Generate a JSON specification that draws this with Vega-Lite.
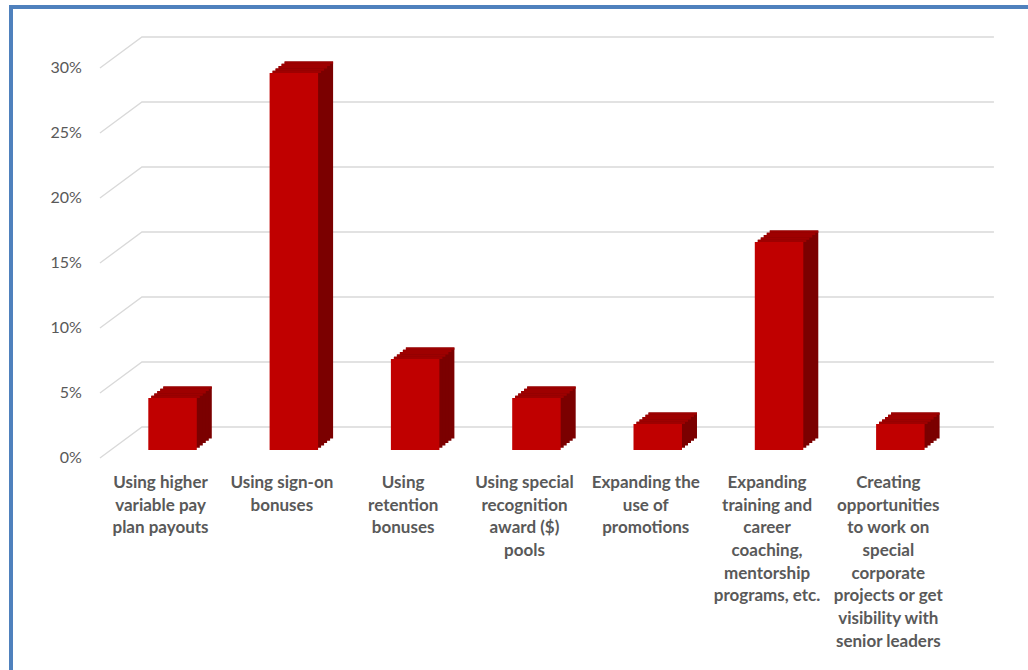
{
  "$schema": "https://vega.github.io/schema/vega-lite/v6.json",
  "width": 1017,
  "height": 663,
  "autosize": "none",
  "padding": {"left": 11, "top": 7, "right": 0, "bottom": 0},
  "background": "white",
  "config": {"view": {"stroke": null}},
  "datasets": {
    "bars": [
      {"c": "Using higher|variable pay|plan payouts", "value": 0.04},
      {"c": "Using sign-on|bonuses", "value": 0.29},
      {"c": "Using|retention|bonuses", "value": 0.07},
      {"c": "Using special|recognition|award ($)|pools", "value": 0.04},
      {"c": "Expanding the|use of|promotions", "value": 0.02},
      {"c": "Expanding|training and|career|coaching,|mentorship|programs, etc.", "value": 0.16},
      {"c": "Creating|opportunities|to work on|special|corporate|projects or get|visibility with|senior leaders", "value": 0.02}
    ],
    "grid": [{"v": 0}, {"v": 0.05}, {"v": 0.1}, {"v": 0.15}, {"v": 0.2}, {"v": 0.25}, {"v": 0.3}]
  },
  "layer": [
    {
      "data": {"name": "grid"},
      "encoding": {
        "x": {"datum": "Using higher|variable pay|plan payouts", "type": "nominal", "axis": null,
          "scale": {"type": "band", "domain": ["Using higher|variable pay|plan payouts", "Using sign-on|bonuses", "Using|retention|bonuses", "Using special|recognition|award ($)|pools", "Expanding the|use of|promotions", "Expanding|training and|career|coaching,|mentorship|programs, etc.", "Creating|opportunities|to work on|special|corporate|projects or get|visibility with|senior leaders"], "paddingInner": 0.6002, "paddingOuter": 0.9922, "align": 0.5704}},
        "y": {"field": "v", "type": "quantitative", "axis": null, "scale": {"domain": [-0.169231, 0.340769], "nice": false, "zero": false}}
      },
      "layer": [
        {"mark": {"type": "point", "shape": "M-72.6,8L-30.6,-23L821.4,-23", "size": 4, "filled": false, "stroke": "#d9d9d9", "strokeWidth": 1.3, "opacity": 1}},
        {
          "mark": {"type": "text", "align": "right", "baseline": "middle", "dx": -90.6, "dy": 8.5, "font": "Lato", "fontSize": 16, "color": "#595959"},
          "encoding": {"text": {"field": "v", "type": "quantitative", "format": ".0%"}}
        }
      ]
    },
    {
      "data": {"name": "bars"},
      "encoding": {
        "x": {"field": "c", "type": "nominal", "axis": null,
          "scale": {"type": "band", "domain": ["Using higher|variable pay|plan payouts", "Using sign-on|bonuses", "Using|retention|bonuses", "Using special|recognition|award ($)|pools", "Expanding the|use of|promotions", "Expanding|training and|career|coaching,|mentorship|programs, etc.", "Creating|opportunities|to work on|special|corporate|projects or get|visibility with|senior leaders"], "paddingInner": 0.6002, "paddingOuter": 0.9922, "align": 0.5704}},
        "y": {"field": "value", "type": "quantitative", "axis": null, "scale": {"domain": [-0.169231, 0.340769], "nice": false, "zero": false}}
      },
      "layer": [
        {"mark": {"type": "bar", "color": "#7b0000", "xOffset": 15, "x2Offset": 15, "yOffset": -11.5, "y2Offset": -11.5}, "encoding": {"y2": {"datum": 0}}},
        {"mark": {"type": "bar", "color": "#7b0000", "xOffset": 12, "x2Offset": 12, "yOffset": -9.2, "y2Offset": -9.2}, "encoding": {"y2": {"datum": 0}}},
        {"mark": {"type": "bar", "color": "#7b0000", "xOffset": 9, "x2Offset": 9, "yOffset": -6.9, "y2Offset": -6.9}, "encoding": {"y2": {"datum": 0}}},
        {"mark": {"type": "bar", "color": "#7b0000", "xOffset": 6, "x2Offset": 6, "yOffset": -4.6, "y2Offset": -4.6}, "encoding": {"y2": {"datum": 0}}},
        {"mark": {"type": "bar", "color": "#7b0000", "xOffset": 3, "x2Offset": 3, "yOffset": -2.3, "y2Offset": -2.3}, "encoding": {"y2": {"datum": 0}}},
        {"mark": {"type": "bar", "color": "#9e0000", "xOffset": 3, "x2Offset": 3, "yOffset": -2.3, "y2Offset": 0}, "encoding": {"y2": {"field": "value"}}},
        {"mark": {"type": "bar", "color": "#9e0000", "xOffset": 6, "x2Offset": 6, "yOffset": -4.6, "y2Offset": -2.3}, "encoding": {"y2": {"field": "value"}}},
        {"mark": {"type": "bar", "color": "#9e0000", "xOffset": 9, "x2Offset": 9, "yOffset": -6.9, "y2Offset": -4.6}, "encoding": {"y2": {"field": "value"}}},
        {"mark": {"type": "bar", "color": "#9e0000", "xOffset": 12, "x2Offset": 12, "yOffset": -9.2, "y2Offset": -6.9}, "encoding": {"y2": {"field": "value"}}},
        {"mark": {"type": "bar", "color": "#9e0000", "xOffset": 15, "x2Offset": 15, "yOffset": -11.5, "y2Offset": -9.2}, "encoding": {"y2": {"field": "value"}}},
        {"mark": {"type": "bar", "color": "#c00000"}, "encoding": {"y2": {"datum": 0}}},
        {
          "mark": {"type": "text", "lineBreak": "|", "dx": -12, "dy": 38, "baseline": "alphabetic", "align": "center", "font": "Lato", "fontSize": 17, "fontWeight": "bold", "color": "#595959", "lineHeight": 22.7},
          "encoding": {
            "y": {"datum": 0, "type": "quantitative", "axis": null, "scale": {"domain": [-0.169231, 0.340769], "nice": false, "zero": false}},
            "text": {"field": "c"}
          }
        }
      ]
    },
    {
      "data": {"values": [{}]},
      "mark": {"type": "rule", "color": "#4f81bd", "strokeWidth": 4, "strokeCap": "square"},
      "encoding": {"y": {"datum": 0.340769, "type": "quantitative", "axis": null, "scale": {"domain": [-0.169231, 0.340769], "nice": false, "zero": false}}}
    },
    {
      "data": {"values": [{}]},
      "mark": {"type": "rule", "color": "#4f81bd", "strokeWidth": 4, "strokeCap": "square"},
      "encoding": {"x": {"value": 0}}
    }
  ]
}
